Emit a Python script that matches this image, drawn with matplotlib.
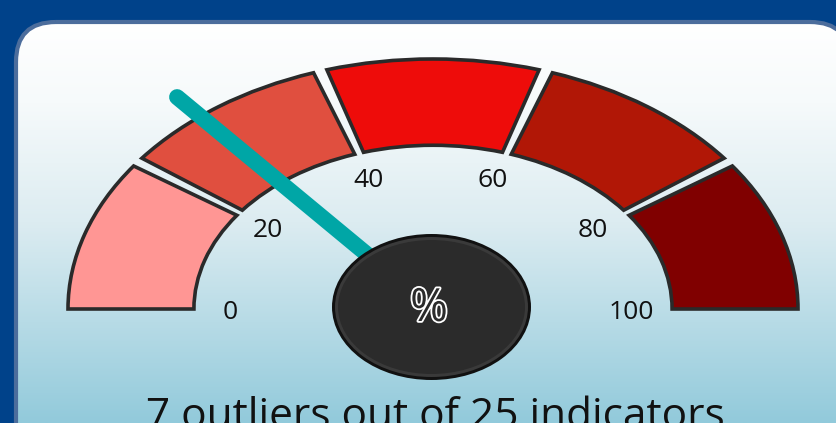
import numpy as np
import matplotlib
matplotlib.use("Agg")
import matplotlib.pyplot as plt
from matplotlib.patches import Wedge, Ellipse, FancyBboxPatch
from matplotlib.colors import LinearSegmentedColormap
import matplotlib.patheffects as pe

# ---- data ----
band_edges = [0, 20, 40, 60, 80, 100]
band_colors = ["#FF9694", "#E04F3F", "#EE0C0A", "#B11706", "#800000"]
tick_values = [0, 20, 40, 60, 80, 100]
tick_labels = ["0", "20", "40", "60", "80", "100"]
outliers = 7
indicators = 25
needle_value = 100 * outliers / indicators
caption = f"{outliers} outliers out of {indicators} indicators"

W, H = 836, 423
fig = plt.figure(figsize=(W / 100, H / 100), dpi=100)
fig.patch.set_facecolor("#00428A")

# background axes in pixel coordinates
bg = fig.add_axes([0, 0, 1, 1])
bg.set_xlim(0, W)
bg.set_ylim(H, 0)
bg.axis("off")

panel = FancyBboxPatch((16, 22), 834, 520, boxstyle="round,pad=0,rounding_size=40",
                       facecolor="none", edgecolor="#4C6D9C", lw=3, zorder=3)
bg.add_patch(panel)
grad = np.linspace(0, 1, 256).reshape(-1, 1)
cmap = LinearSegmentedColormap.from_list(
    "g", [(0, "#FFFFFF"), (0.2, "#F6FAFB"), (0.5, "#DCECF1"), (1, "#92CADB")])
im = bg.imshow(grad, extent=(16, 860, 423, 22), cmap=cmap, aspect="auto",
               interpolation="bilinear", zorder=1)
im.set_clip_path(panel)

# gauge axes: unit ellipse centred at pixel (433, 309), rx=365 px, ry=250 px
cx, cy, rx, ry = 433, 309, 365, 250
g = fig.add_axes([0, 0, 1, 1])
g.set_xlim(-cx / rx, (W - cx) / rx)
g.set_ylim(-(H - cy) / ry, cy / ry)
g.patch.set_alpha(0)
g.axis("off")

r_out, width = 1.0, 0.345
gap = 1.1  # degrees on each side of an inner boundary
for i in range(len(band_colors)):
    t1 = 180 - band_edges[i + 1] * 1.8
    t2 = 180 - band_edges[i] * 1.8
    if i != len(band_colors) - 1:
        t1 += gap
    if i != 0:
        t2 -= gap
    g.add_patch(Wedge((0, 0), r_out, t1, t2, width=width,
                      facecolor=band_colors[i], edgecolor="#2A2A2A",
                      lw=2.6, joinstyle="miter", zorder=2))

# tick labels
for v, lab in zip(tick_values, tick_labels):
    a = np.deg2rad(180 - v * 1.8)
    g.text(-0.007 + 0.55 * np.cos(a), -0.014 + 0.555 * np.sin(a), lab,
           ha="center", va="center", fontsize=19, family="Open Sans",
           color="#111111", zorder=3)

# needle
a = np.deg2rad(180 - needle_value * 1.8)
L = 1.10
g.plot([0, L * np.cos(a)], [0, L * np.sin(a)], color="#00A6A6", lw=11.5,
       solid_capstyle="round", zorder=4)

# hub
hx, hy = (431.5 - cx) / rx, (cy - 307) / ry
g.add_patch(Ellipse((hx, hy), 199 / rx, 146 / ry, facecolor="#111111",
                    edgecolor="none", zorder=5))
g.add_patch(Ellipse((hx, hy), 193 / rx, 140 / ry, facecolor="#3A3A3A",
                    edgecolor="none", zorder=5))
g.add_patch(Ellipse((hx, hy), 187 / rx, 134 / ry, facecolor="#2B2B2B",
                    edgecolor="none", zorder=5))
t = g.text((429 - cx) / rx, (cy - 309) / ry, "%", ha="center", va="center",
           fontsize=33, family="Open Sans", color="#2B2B2B", zorder=6)
t.set_path_effects([pe.Stroke(linewidth=2.6, foreground="white"), pe.Normal()])

# caption
bg.text(435, 428, caption, ha="center", va="baseline", fontsize=30.5,
        family="Open Sans", color="#111111", zorder=6)

fig.savefig("out.png", dpi=100, facecolor=fig.get_facecolor())
